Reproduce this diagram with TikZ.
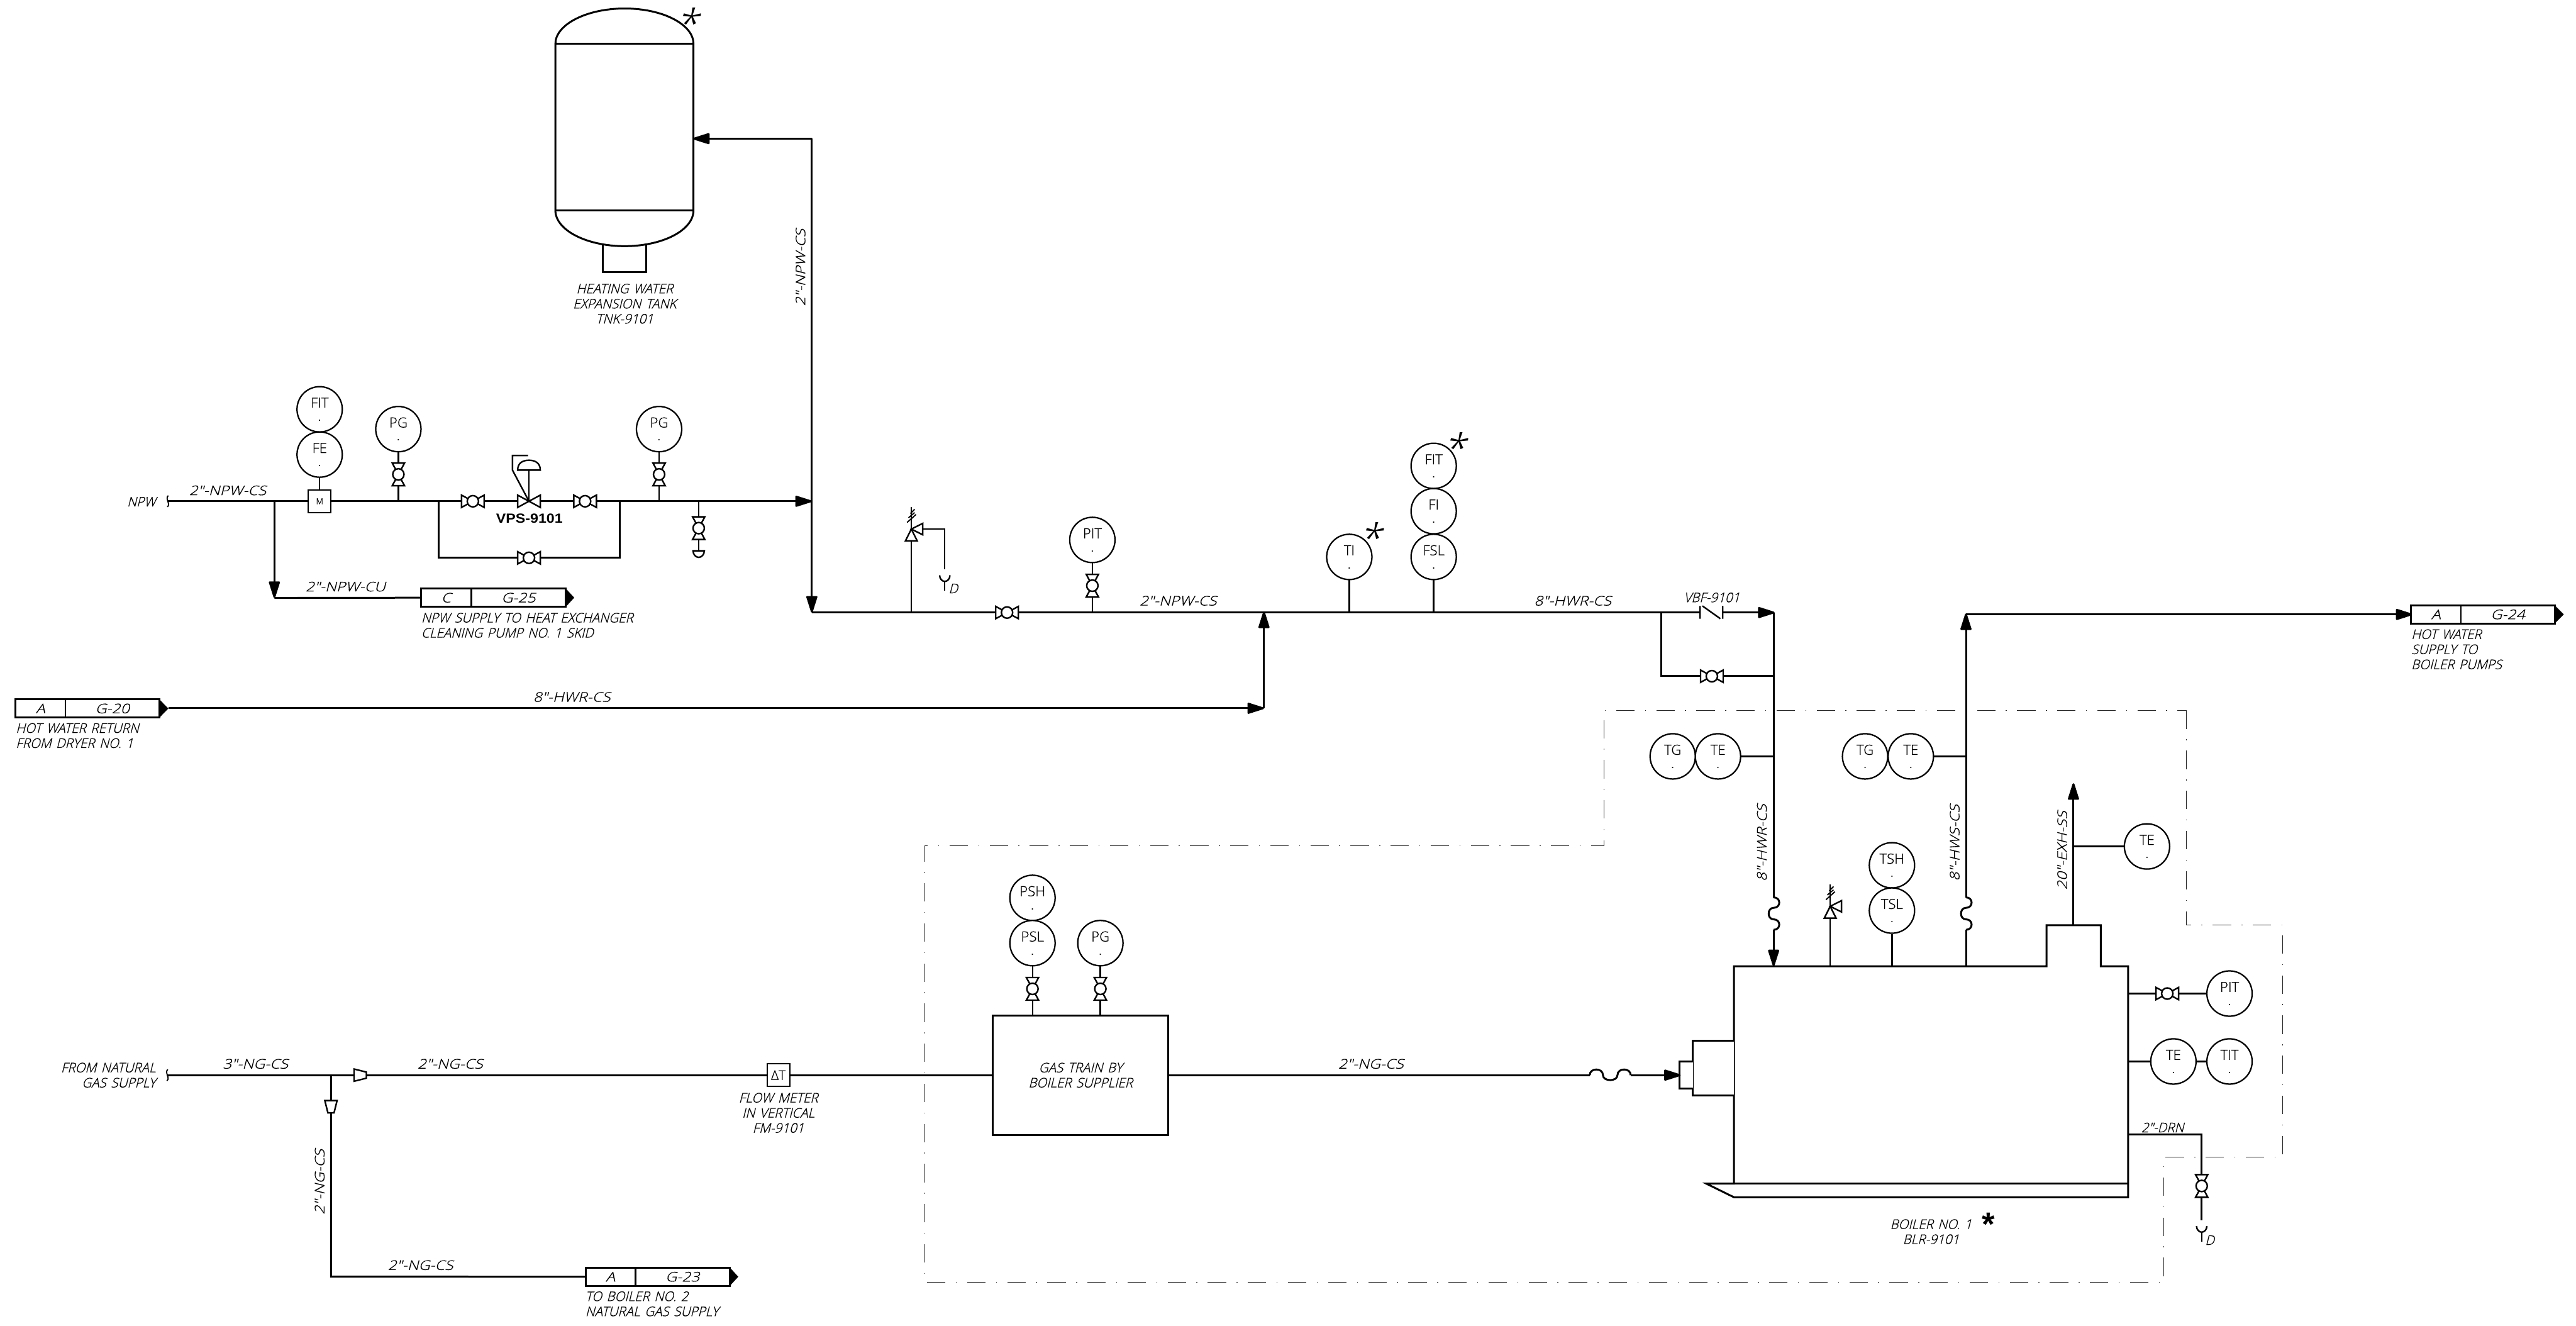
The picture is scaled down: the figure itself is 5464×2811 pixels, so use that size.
\documentclass[tikz,border=0pt]{standalone}
\usepackage{fontspec}
\setmainfont{Liberation Sans}
\newfontfamily\cadslant{Open Sans Light}[FakeSlant=0.25,FakeStretch=0.98,WordSpace=1.4,FakeBold=0.6]
\newfontfamily\cadwide{Open Sans Light}[FakeSlant=0.25,FakeStretch=1.18,FakeBold=0.6]
\newfontfamily\cadup{Open Sans Light}[FakeStretch=1.0,FakeBold=0.6]
\newfontfamily\cadstar{Open Sans Light}[FakeSlant=0.25]
\newfontfamily\cadbold{Liberation Sans}[FakeStretch=1.1]
\usetikzlibrary{arrows.meta,calc}
\tikzset{
  pipe/.style={line width=0.04cm,line join=miter},
  thinp/.style={line width=0.032cm},
  sym/.style={line width=0.032cm,fill=white},
  arr/.style={-{Triangle[length=0.4cm,width=0.24cm,round]}},
  boundary/.style={line width=0.016cm,black!85,dash pattern=on 0.39cm off 0.22cm on 0.02cm off 0.22cm},
  instc/.style={circle,draw,fill=white,line width=0.03cm,minimum size=0.96cm,inner sep=0},
  instl/.style={inner sep=0,font=\cadup\fontsize{8.4}{9}\selectfont},
  instd/.style={inner sep=0,anchor=base,font=\fontsize{7}{9}\selectfont},
  txt/.style={inner sep=0,font=\cadslant\fontsize{8}{9.1}\selectfont,align=center},
  txtl/.style={txt,align=left,anchor=west},
  line label/.style={inner sep=0,font=\cadwide\fontsize{8}{9.1}\selectfont},
  star/.style={inner sep=0,font=\cadstar\fontsize{24}{24}\selectfont},
  pics/gvalve/.style={code={
    \draw[sym] (-24,-13) -- (24,13) -- (24,-13) -- (-24,13) -- cycle;
    \draw[sym] (0,0) circle (12);
  }},
  pics/cvalve/.style={code={
    \draw[sym] (-24,-13) -- (24,13) -- (24,-13) -- (-24,13) -- cycle;
  }},
  pics/flex/.style={code={
    \draw[pipe,fill=none] (0,0) .. controls (0,-16) and (20,-16) .. (20,0) .. controls (20,14) and (42,14) .. (42,0) .. controls (42,-16) and (62,-16) .. (62,0);
  }},
  pics/relief/.style={code={
    \draw[thinp] (0,0) -- (0,-47);
    \draw[line width=0.025cm] (-9,-14) -- (10,-31) (-6,-24) -- (7,-35) (-2,-33) -- (7,-42);
    \draw[sym] (0,0) -- (-12.5,25) -- (12.5,25) -- cycle;
    \draw[sym] (0,0) -- (24,-12) -- (24,12) -- cycle;
  }},
  pics/fork/.style={code={
    \draw[thinp,fill=none] (-11,0) .. controls (-11,8) and (-5,13) .. (0,13) .. controls (5,13) and (11,8) .. (11,0);
    \draw[thinp] (0,13) -- (0,33);
  }},
  pics/brk/.style={code={
    \draw[line width=0.025cm] (2,-12) .. controls (-6,-6) and (8,6) .. (0,12);
  }},
  pics/redu/.style={code={
    \draw[sym] (0,-13) -- (26,-6.5) -- (26,6.5) -- (0,13) -- cycle;
  }},
}
\newcommand{\inst}[3]{%
  \node[instc] (#1) at (#2) {};
  \node[instl] (#1l) at ([yshift=0.14cm]#1.center) {#3};
  \node[instd] (#1d) at ([yshift=-0.25cm]#1.center) {.};
}
% name, left x, divider x, right x, tip x, top y, bottom y, letter, sheet
\newcommand{\offpage}[9]{%
  \coordinate (#1a) at (#2,#6);
  \coordinate (#1b) at (#4,#6);
  \coordinate (#1c) at (#4,#7);
  \coordinate (#1d) at (#2,#7);
  \coordinate (#1m) at (#2,{(#6+#7)/2});
  \fill (#1b) -- (#5,{(#6+#7)/2}) -- (#1c) -- cycle;
  \draw[pipe,fill=white] (#1a) -- (#1b) -- (#1c) -- (#1d) -- cycle;
  \draw[thinp] (#3,#6) -- (#3,#7);
  \node[line label] (#1l) at ({(#2+#3)/2},{(#6+#7)/2}) {#8};
  \node[line label] (#1s) at ({(#3+#4)/2},{(#6+#7)/2}) {#9};
}
\begin{document}
\begin{tikzpicture}[x=0.01cm,y=-0.01cm]
\useasboundingbox (0,0) rectangle (5464,2811);
\fill[white] (0,0) rectangle (5464,2811);

% ---------- boundary
\draw[boundary] (4638,1507) -- (4638,1962) -- (4842,1962) -- (4842,2454) -- (4590,2454) -- (4590,2719) -- (1962,2719) -- (1962,1794) -- (3402,1794) -- (3402,1507) -- cycle;

% ---------- expansion tank
\draw[pipe] (1279,516) -- (1279,577) -- (1370,577) -- (1370,516);
\draw[pipe,fill=white] (1178,93) .. controls (1178,52) and (1244,18) .. (1325,18) .. controls (1406,18) and (1471,52) .. (1471,93) -- (1471,446) .. controls (1471,488) and (1406,522) .. (1325,522) .. controls (1244,522) and (1178,488) .. (1178,446) -- cycle;
\draw[pipe] (1178,93) -- (1471,93) (1178,446) -- (1471,446);
\coordinate (tankin) at (1470,294);
\node[star] (tankstar) at (1456,48) {*};
\node[txt] (tanklab) at (1325,644) {HEATING WATER\\EXPANSION TANK\\TNK-9101};

% ---------- junction coordinates
\coordinate (npwstart) at (355,1063);
\coordinate (npwtee) at (582,1063);
\coordinate (header) at (1722,1063);
\coordinate (corner) at (1722,294);
\coordinate (main) at (1722,1299);
\coordinate (hwrjoin) at (2681,1297);
\coordinate (hwrturn) at (2681,1502);
\coordinate (retstart) at (357,1502);
\coordinate (bystart) at (3523,1299);
\coordinate (byend) at (3762,1434);
\coordinate (bycorner) at (3523,1434);
\coordinate (mainend) at (3764,1299);
\coordinate (mainturn) at (3762,1299);
\coordinate (boilin) at (3762,2049);
\coordinate (hwsout) at (4170,2049);
\coordinate (hwstop) at (4170,1301);
\coordinate (hwsturn) at (4170,1303);
\coordinate (hwsend) at (5117,1303);

% ---------- main pipes
\draw[pipe] (npwstart) -- (npwtee);
\draw[pipe,arr] (npwtee) -- (header);
\draw[pipe,arr] (corner) -- (tankin);
\draw[pipe] (corner) -- (header);
\draw[pipe,arr] (header) -- (main);
\draw[pipe] (main) -- (bystart);
\draw[pipe,arr] (bystart) -- (mainend);
\draw[pipe,arr] (retstart) -- (hwrturn);
\draw[pipe,arr] (hwrturn) -- (hwrjoin);
\draw[pipe] (bystart) -- (bycorner) -- (byend);
\draw[pipe] (mainturn) -- (3762,1903);
\draw[pipe,arr] (3762,1972) -- (boilin);
\draw[pipe] (hwsout) -- (4170,1972);
\draw[pipe,arr] (4170,1903) -- (hwstop);
\draw[pipe,arr] (hwsturn) -- (hwsend);

% ---------- NPW branch
\coordinate (cubranch) at (582,1268);
\draw[pipe,arr] (npwtee) -- (cubranch);
\offpage{opc}{893}{1000}{1200}{1218}{1248}{1287}{C}{G-25}
\draw[pipe] (cubranch) -- (opcm);
\node[txtl] (cutext) at (893,1326) {NPW SUPPLY TO HEAT EXCHANGER\\CLEANING PUMP NO. 1 SKID};
\node[line label] (culine) at (733,1244) {2"-NPW-CU};
\node[line label] (npwline) at (483,1040) {2"-NPW-CS};
\node[txt] (npwtext) at (300,1064) {NPW};
\pic at (npwstart) {brk};

% meter + instruments
\node[draw,fill=white,line width=0.03cm,inner sep=0,minimum width=0.48cm,minimum height=0.48cm,font=\cadup\fontsize{5}{6}\selectfont] (meter) at (678,1063) {M};
\inst{fit1}{678,868}{FIT}
\inst{fe1}{678,964}{FE}
\draw[thinp] (fe1) -- (meter);
\inst{pg1}{845,910}{PG}
\coordinate (pg1j) at (845,1063);
\coordinate (pg1v) at (845,1006);
\draw[thinp] (pg1) -- (pg1j);
\pic[rotate=90] at (pg1v) {gvalve};
\inst{pg2}{1398,910}{PG}
\coordinate (pg2j) at (1398,1063);
\coordinate (pg2v) at (1398,1006);
\draw[thinp] (pg2) -- (pg2j);
\pic[rotate=90] at (pg2v) {gvalve};

% VPS station
\coordinate (bpa) at (930,1063);
\coordinate (bpb) at (930,1183);
\coordinate (bpc) at (1315,1183);
\coordinate (bpd) at (1315,1063);
\draw[pipe] (bpa) -- (bpb) -- (bpc) -- (bpd);
\coordinate (vbp) at (1122,1183);
\coordinate (v1) at (1003,1063);
\coordinate (v2) at (1241,1063);
\coordinate (vps) at (1122,1063);
\pic at (vbp) {gvalve};
\pic at (v1) {gvalve};
\pic at (v2) {gvalve};
\pic at (vps) {cvalve};
\draw[thinp] (vps) -- (1122,997);
\draw[thinp,fill=white] (1098,997) .. controls (1098,981) and (1110,976) .. (1122,976) .. controls (1134,976) and (1146,981) .. (1146,997) -- cycle;
\draw[thinp] (1120,966) -- (1087,966) -- (1087,997) -- (vps);
\node[inner sep=0,font=\cadbold\bfseries\fontsize{8}{9}\selectfont] (vpslab) at (1123,1099) {VPS-9101};

% test connection
\coordinate (testj) at (1482,1063);
\coordinate (testv) at (1482,1120);
\coordinate (testc) at (1482,1168);
\draw[thinp] (testj) -- (testc);
\pic[rotate=90] at (testv) {gvalve};
\draw[thinp,fill=white] (1470,1168) -- (1494,1168) .. controls (1494,1176) and (1488,1182) .. (1482,1182) .. controls (1476,1182) and (1470,1176) .. (1470,1168) -- cycle;

% vertical label
\node[line label,rotate=90] (tankline) at (1698,567) {2"-NPW-CS};

% ---------- main line instruments
\coordinate (rvj) at (1933,1299);
\coordinate (rv) at (1933,1122);
\draw[thinp] (rvj) -- (rv);
\coordinate (rvo) at (2004,1122);
\coordinate (rvd) at (2004,1207);
\draw[thinp] (rv) -- (rvo) -- (rvd);
\pic at (rv) {relief};
\pic at (2004,1220) {fork};
\node[txt] (yd1) at (2022,1248) {D};
\coordinate (v3) at (2136,1299);
\pic at (v3) {gvalve};
\inst{pit1}{2317,1145}{PIT}
\coordinate (pit1j) at (2317,1299);
\coordinate (pit1v) at (2317,1242);
\draw[thinp] (pit1) -- (pit1j);
\pic[rotate=90] at (pit1v) {gvalve};
\inst{ti}{2862,1181}{TI}
\coordinate (tij) at (2862,1299);
\draw[thinp] (ti) -- (tij);
\inst{fit2}{3041,988}{FIT}
\inst{fi}{3041,1084}{FI}
\inst{fsl}{3041,1181}{FSL}
\coordinate (fslj) at (3041,1299);
\draw[thinp] (fsl) -- (fslj);
\node[star] (tistar) at (2905,1140) {*};
\node[star] (fitstar) at (3084,949) {*};
\node[line label] (l1) at (2499,1274) {2"-NPW-CS};
\node[line label] (l2) at (3336,1274) {8"-HWR-CS};
\node[txt] (vbf) at (3631,1267) {VBF-9101};
% check valve
\coordinate (chk) at (3630,1299);
\fill[white] (3606,1285) rectangle (3654,1312);
\draw[thinp] (3606,1285) -- (3606,1312) (3654,1285) -- (3654,1312) (3611,1285) -- (3649,1312);
\coordinate (v4) at (3631,1434);
\pic at (v4) {gvalve};

% return
\offpage{opr}{33}{139}{338}{357}{1483}{1522}{A}{G-20}
\node[txtl] (rettext) at (33,1560) {HOT WATER RETURN\\FROM DRYER NO. 1};
\node[line label] (retline) at (1213,1478) {8"-HWR-CS};

% supply
\offpage{ops}{5114}{5220}{5419}{5438}{1284}{1322}{A}{G-24}
\node[txtl] (suptext) at (5114,1377) {HOT WATER\\SUPPLY TO\\BOILER PUMPS};

% ---------- boiler
\draw[pipe,fill=white] (3678,2049) -- (4341,2049) -- (4341,1962) -- (4456,1962) -- (4456,2049) -- (4514,2049) -- (4514,2539) -- (3678,2539) -- (3619,2510) -- (3678,2510) -- cycle;
\draw[pipe] (3678,2510) -- (4514,2510);
\draw[pipe,fill=white] (3678,2207) -- (3591,2207) -- (3591,2323) -- (3678,2323);
\draw[pipe,fill=white] (3591,2251) -- (3562,2251) -- (3562,2309) -- (3591,2309);
\coordinate (exh) at (4398,1962);
\coordinate (exhtop) at (4398,1661);
\draw[pipe,arr] (exh) -- (exhtop);
\inst{te5}{4554,1795}{TE}
\coordinate (te5j) at (4398,1795);
\draw[thinp] (te5) -- (te5j);
\inst{tg1}{3548,1604}{TG}
\inst{te1}{3644,1604}{TE}
\coordinate (te1j) at (3762,1604);
\draw[thinp] (te1) -- (te1j);
\inst{tg2}{3956,1604}{TG}
\inst{te2}{4053,1604}{TE}
\coordinate (te2j) at (4170,1604);
\draw[thinp] (te2) -- (te2j);
\inst{tsh}{4013,1835}{TSH}
\inst{tsl}{4013,1931}{TSL}
\coordinate (tslj) at (4013,2049);
\draw[thinp] (tsl) -- (tslj);
\coordinate (rv2j) at (3882,2049);
\coordinate (rv2) at (3882,1922);
\draw[thinp] (rv2j) -- (rv2);
\pic at (rv2) {relief};
\pic[rotate=-90,xscale=1.11] at (3762,1903) {flex};
\pic[rotate=-90,xscale=1.11] at (4170,1903) {flex};
\pic[xscale=1.4] at (3372,2280) {flex};
\node[line label,rotate=90] (vl1) at (3737,1787) {8"-HWR-CS};
\node[line label,rotate=90] (vl2) at (4146,1787) {8"-HWS-CS};
\node[line label,rotate=90] (vl3) at (4374,1803) {20"-EXH-SS};
\inst{pit2}{4729,2107}{PIT}
\coordinate (pit2j) at (4514,2107);
\coordinate (v5) at (4597,2107);
\draw[pipe] (pit2j) -- (pit2);
\pic at (v5) {gvalve};
\inst{te3}{4610,2251}{TE}
\inst{tit}{4729,2251}{TIT}
\coordinate (te3j) at (4514,2251);
\draw[thinp] (te3j) -- (te3) (te3) -- (tit);
\coordinate (drna) at (4514,2406);
\coordinate (drnb) at (4670,2406);
\coordinate (drnc) at (4670,2588);
\coordinate (drnv) at (4670,2515);
\draw[pipe] (drna) -- (drnb) -- (drnc);
\pic[rotate=90] at (drnv) {gvalve};
\pic at (4670,2600) {fork};
\node[txt] (yd2) at (4687,2630) {D};
\node[txt] (drnl) at (4587,2391) {2"-DRN};
\node[txt] (boilab) at (4096,2612) {BOILER NO. 1\\BLR-9101};
\node[inner sep=0,font=\bfseries\fontsize{20}{20}\selectfont] (boistar) at (4218,2596) {*};

% ---------- natural gas
\coordinate (ngstart) at (354,2280);
\coordinate (ngtee) at (702,2280);
\coordinate (ngcorner) at (702,2707);
\coordinate (gtl) at (2106,2280);
\coordinate (gtr) at (2478,2280);
\coordinate (flexin) at (3372,2280);
\coordinate (flexout) at (3459,2280);
\coordinate (burner) at (3565,2280);
\draw[pipe] (ngstart) -- (ngtee) -- (gtl);
\draw[pipe] (gtr) -- (flexin);
\draw[pipe,arr] (flexout) -- (burner);
\offpage{opg}{1242}{1348}{1548}{1566}{2688}{2727}{A}{G-23}
\draw[pipe] (ngtee) -- (ngcorner) -- (opgm);
\pic at (751,2280) {redu};
\pic[rotate=-90] at (702,2334) {redu};
\pic at (354,2280) {brk};
\node[draw,fill=white,line width=0.03cm,inner sep=0,minimum width=0.48cm,minimum height=0.48cm,font=\cadup\fontsize{8}{9}\selectfont] (fm) at (1651,2280) {ΔT};
\node[draw,line width=0.04cm,fill=white,inner sep=0,minimum width=3.72cm,minimum height=2.53cm,align=center,font=\cadslant\fontsize{8}{9.1}\selectfont] (gastrain) at (2292,2280) {GAS TRAIN BY\\BOILER SUPPLIER};
\inst{psh}{2190,1904}{PSH}
\inst{psl}{2190,2000}{PSL}
\inst{pg3}{2334,2000}{PG}
\coordinate (pslj) at (2190,2153);
\coordinate (pg3j) at (2334,2153);
\draw[thinp] (psl) -- (pslj) (pg3) -- (pg3j);
\pic[rotate=90] at (2190,2097) {gvalve};
\pic[rotate=90] at (2334,2097) {gvalve};
\node[txt] (ngfrom) at (331,2280) [align=right,anchor=east] {FROM NATURAL\\GAS SUPPLY};
\node[line label] (ng1) at (542,2256) {3"-NG-CS};
\node[line label] (ng2) at (955,2256) {2"-NG-CS};
\node[line label,rotate=90] (ng3) at (678,2506) {2"-NG-CS};
\node[line label] (ng4) at (892,2683) {2"-NG-CS};
\node[line label] (ng5) at (2908,2256) {2"-NG-CS};
\node[txt] (fmlab) at (1651,2360) {FLOW METER\\IN VERTICAL\\FM-9101};
\node[txtl] (ngb2) at (1241,2765) {TO BOILER NO. 2\\NATURAL GAS SUPPLY};
\end{tikzpicture}
\end{document}
